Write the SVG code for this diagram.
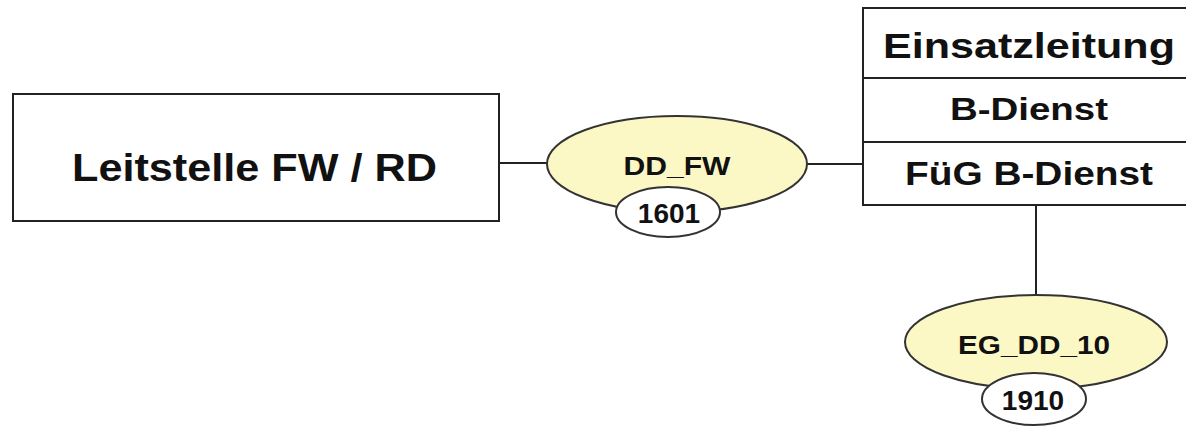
<svg xmlns="http://www.w3.org/2000/svg" width="1186" height="427" viewBox="0 0 1186 427">
<style>
.box{fill:#ffffff;stroke:#222;stroke-width:2}
.ell{fill:#fbf8c6;stroke:#333;stroke-width:2}
.sm{fill:#ffffff;stroke:#333;stroke-width:2}
.ln{stroke:#222;stroke-width:2;fill:none}
text{font-family:"Liberation Sans",Arial,sans-serif;font-weight:bold;fill:#111;text-anchor:middle}
</style>
<rect width="1186" height="427" fill="#ffffff"/>
<g id="connectors">
<line class="ln" x1="499" y1="163" x2="547" y2="163"/>
<line class="ln" x1="807" y1="164" x2="863" y2="164"/>
<line class="ln" x1="1036" y1="205" x2="1036" y2="295"/>
</g>
<g id="leitstelle">
<rect class="box" x="13" y="94" width="486" height="127"/>
<text x="254.5" y="181" font-size="39" textLength="365" lengthAdjust="spacingAndGlyphs">Leitstelle FW / RD</text>
</g>
<g id="dd_fw">
<ellipse class="ell" cx="677" cy="164" rx="130" ry="48"/>
<text x="677" y="175" font-size="25" textLength="107" lengthAdjust="spacingAndGlyphs">DD_FW</text>
<ellipse class="sm" cx="668" cy="212" rx="52" ry="25"/>
<text x="669" y="223" font-size="28">1601</text>
</g>
<g id="einsatzleitung">
<rect class="box" x="863" y="8" width="340" height="197"/>
<line class="ln" x1="863" y1="78" x2="1186" y2="78"/>
<line class="ln" x1="863" y1="142" x2="1186" y2="142"/>
<text x="1029" y="58" font-size="35" textLength="292" lengthAdjust="spacingAndGlyphs">Einsatzleitung</text>
<text x="1029" y="120" font-size="32" textLength="158" lengthAdjust="spacingAndGlyphs">B-Dienst</text>
<text x="1029" y="185" font-size="33" textLength="248" lengthAdjust="spacingAndGlyphs">FüG B-Dienst</text>
</g>
<g id="eg_dd_10">
<ellipse class="ell" cx="1036" cy="342" rx="131" ry="47"/>
<text x="1034" y="354" font-size="25" textLength="152" lengthAdjust="spacingAndGlyphs">EG_DD_10</text>
<ellipse class="sm" cx="1034" cy="399" rx="52" ry="26"/>
<text x="1033" y="410" font-size="28">1910</text>
</g>
</svg>
